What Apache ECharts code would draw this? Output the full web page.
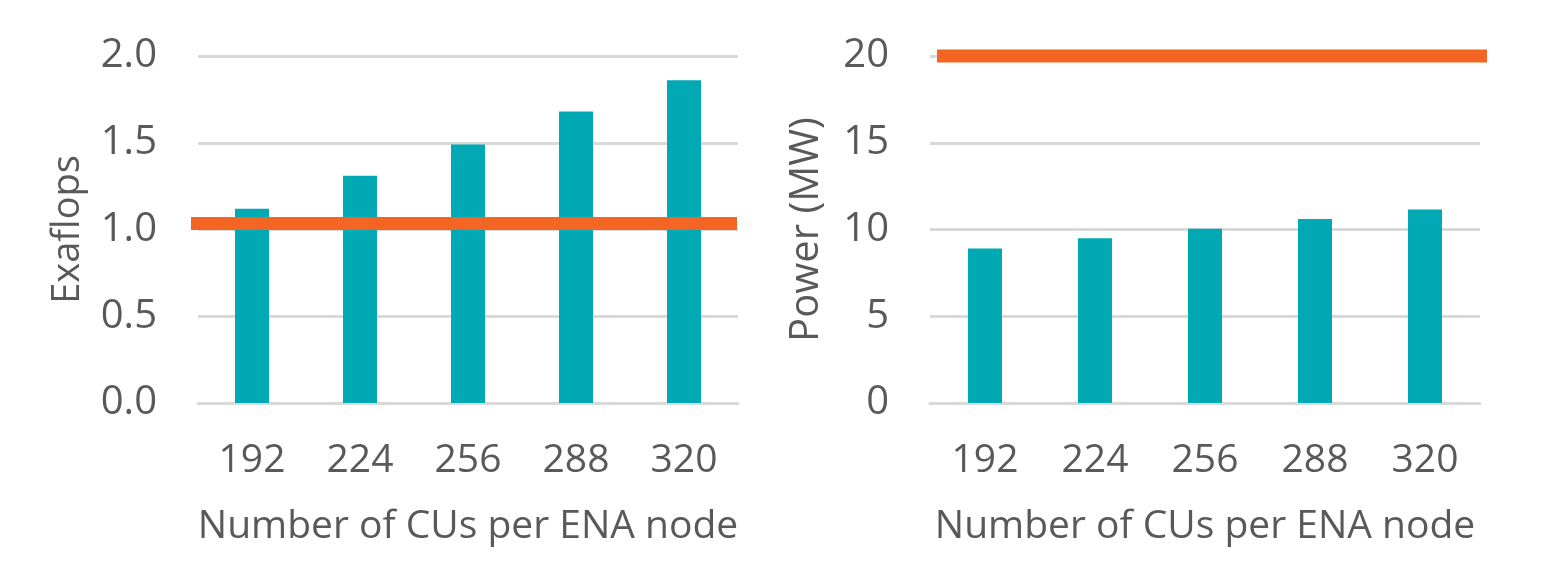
<!DOCTYPE html>
<html>
<head>
<meta charset="utf-8">
<script src="https://cdn.jsdelivr.net/npm/echarts@6/dist/echarts.min.js"></script>
<style>
html,body{margin:0;padding:0;background:#fff;}
#c{width:1560px;height:564px;}
</style>
</head>
<body>
<div id="c"></div>
<script>
const categories = ['192', '224', '256', '288', '320'];
const exaflops = [1.12, 1.31, 1.49, 1.68, 1.86];
const exaflopsTarget = 1.035;
const powerMW = [8.9, 9.5, 10.05, 10.6, 11.15];
const powerLimit = 20;
const yTicksLeft = { min: 0, max: 2, interval: 0.5 };
const yTicksRight = { min: 0, max: 20, interval: 5 };

const FONT = 'Open Sans';
const TXT = '#595959';
const GRIDC = '#d9d9d9';
const TEAL = '#00a9b4';
const ORANGE = '#f26522';

const chart = echarts.init(document.getElementById('c'));

function catAxis(gridIndex) {
  return {
    type: 'category', gridIndex: gridIndex, data: categories,
    axisLine: { show: true, lineStyle: { color: GRIDC, width: 3 } },
    axisTick: { show: false },
    axisLabel: { color: TXT, fontFamily: FONT, fontSize: 39, margin: 38 },
    name: 'Number of CUs per ENA node', nameLocation: 'middle', nameGap: 104,
    nameTextStyle: { color: TXT, fontFamily: FONT, fontSize: 39 }
  };
}
function hiddenAxis(gridIndex, mn, mx) {
  return { type: 'value', gridIndex: gridIndex, min: mn, max: mx, show: false };
}
function valAxis(gridIndex, ticks, name, gap, nameSize, fmt) {
  return {
    type: 'value', gridIndex: gridIndex, min: ticks.min, max: ticks.max, interval: ticks.interval,
    axisLine: { show: false }, axisTick: { show: false },
    splitLine: { lineStyle: { color: GRIDC, width: 3 } },
    axisLabel: { color: TXT, fontFamily: FONT, fontSize: 40, margin: 41, formatter: fmt },
    name: name, nameLocation: 'middle', nameGap: gap, nameRotate: 90,
    nameTextStyle: { color: TXT, fontFamily: FONT, fontSize: nameSize }
  };
}

chart.setOption({
  animation: false,
  backgroundColor: '#fff',
  grid: [
    { left: 198, right: 1560 - 738, top: 56, bottom: 564 - 403 },
    { left: 930, right: 1560 - 1480, top: 56, bottom: 564 - 403 }
  ],
  xAxis: [
    catAxis(0),
    hiddenAxis(0, 0.0253, 1.0018),
    catAxis(1),
    hiddenAxis(1, -0.0127, 0.9819)
  ],
  yAxis: [
    valAxis(0, yTicksLeft, 'Exaflops', 111, 38, v => v.toFixed(1)),
    valAxis(1, yTicksRight, 'Power (MW)', 103, 40, v => String(v))
  ],
  series: [
    { type: 'bar', xAxisIndex: 0, yAxisIndex: 0, data: exaflops, barWidth: 34, itemStyle: { color: TEAL } },
    { type: 'line', xAxisIndex: 1, yAxisIndex: 0, data: [[0, exaflopsTarget], [1, exaflopsTarget]],
      symbol: 'none', clip: false, z: 5, lineStyle: { color: ORANGE, width: 13, cap: 'butt' } },
    { type: 'bar', xAxisIndex: 2, yAxisIndex: 1, data: powerMW, barWidth: 34, itemStyle: { color: TEAL } },
    { type: 'line', xAxisIndex: 3, yAxisIndex: 1, data: [[0, powerLimit], [1, powerLimit]],
      symbol: 'none', clip: false, z: 5, lineStyle: { color: ORANGE, width: 13, cap: 'butt' } }
  ]
});
</script>
</body>
</html>
